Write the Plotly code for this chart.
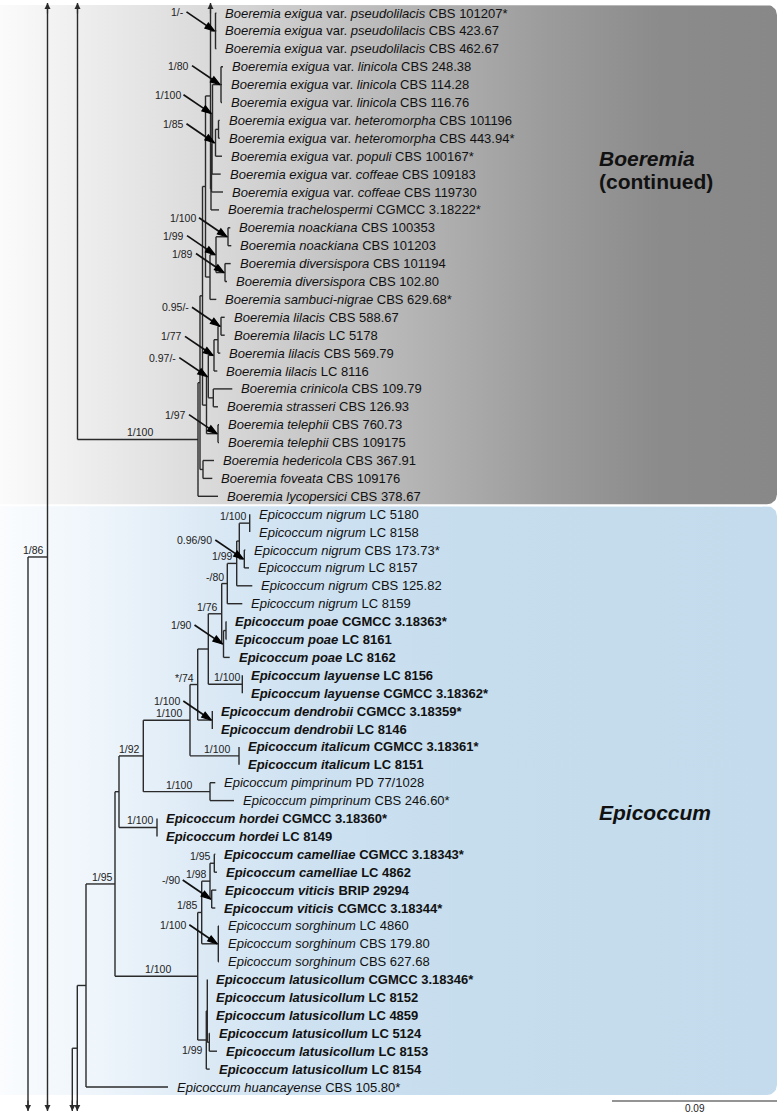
import math
import plotly.graph_objects as go

# ---------------- data ----------------
species = [
    "Boeremia exigua", "Boeremia exigua", "Boeremia exigua",
    "Boeremia exigua", "Boeremia exigua", "Boeremia exigua",
    "Boeremia exigua", "Boeremia exigua", "Boeremia exigua",
    "Boeremia exigua", "Boeremia exigua", "Boeremia trachelospermi",
    "Boeremia noackiana", "Boeremia noackiana", "Boeremia diversispora",
    "Boeremia diversispora", "Boeremia sambuci-nigrae", "Boeremia lilacis",
    "Boeremia lilacis", "Boeremia lilacis", "Boeremia lilacis",
    "Boeremia crinicola", "Boeremia strasseri", "Boeremia telephii",
    "Boeremia telephii", "Boeremia hedericola", "Boeremia foveata",
    "Boeremia lycopersici",
    "Epicoccum nigrum", "Epicoccum nigrum", "Epicoccum nigrum",
    "Epicoccum nigrum", "Epicoccum nigrum", "Epicoccum nigrum",
    "Epicoccum poae", "Epicoccum poae", "Epicoccum poae",
    "Epicoccum layuense", "Epicoccum layuense",
    "Epicoccum dendrobii", "Epicoccum dendrobii",
    "Epicoccum italicum", "Epicoccum italicum",
    "Epicoccum pimprinum", "Epicoccum pimprinum",
    "Epicoccum hordei", "Epicoccum hordei",
    "Epicoccum camelliae", "Epicoccum camelliae",
    "Epicoccum viticis", "Epicoccum viticis",
    "Epicoccum sorghinum", "Epicoccum sorghinum", "Epicoccum sorghinum",
    "Epicoccum latusicollum", "Epicoccum latusicollum", "Epicoccum latusicollum",
    "Epicoccum latusicollum", "Epicoccum latusicollum", "Epicoccum latusicollum",
    "Epicoccum huancayense",
]
variety = [
    "pseudolilacis", "pseudolilacis", "pseudolilacis",
    "linicola", "linicola", "linicola",
    "heteromorpha", "heteromorpha", "populi",
    "coffeae", "coffeae",
] + [""] * 50
strain = [
    "CBS 101207", "CBS 423.67", "CBS 462.67", "CBS 248.38", "CBS 114.28",
    "CBS 116.76", "CBS 101196", "CBS 443.94", "CBS 100167", "CBS 109183",
    "CBS 119730", "CGMCC 3.18222", "CBS 100353", "CBS 101203", "CBS 101194",
    "CBS 102.80", "CBS 629.68", "CBS 588.67", "LC 5178", "CBS 569.79",
    "LC 8116", "CBS 109.79", "CBS 126.93", "CBS 760.73", "CBS 109175",
    "CBS 367.91", "CBS 109176", "CBS 378.67",
    "LC 5180", "LC 8158", "CBS 173.73", "LC 8157", "CBS 125.82", "LC 8159",
    "CGMCC 3.18363", "LC 8161", "LC 8162", "LC 8156", "CGMCC 3.18362",
    "CGMCC 3.18359", "LC 8146", "CGMCC 3.18361", "LC 8151",
    "PD 77/1028", "CBS 246.60", "CGMCC 3.18360", "LC 8149",
    "CGMCC 3.18343", "LC 4862", "BRIP 29294", "CGMCC 3.18344",
    "LC 4860", "CBS 179.80", "CBS 627.68",
    "CGMCC 3.18346", "LC 8152", "LC 4859", "LC 5124", "LC 8153", "LC 8154",
    "CBS 105.80",
]
ex_type = [
    1, 0, 0, 0, 0, 0, 0, 1, 1, 0, 0, 1, 0, 0, 0, 0, 1, 0, 0, 0, 0, 0, 0, 0, 0, 0, 0, 0,
    0, 0, 1, 0, 0, 0, 1, 0, 0, 0, 1, 1, 0, 1, 0, 0, 1, 1, 0, 1, 0, 0, 1, 0, 0, 0,
    1, 0, 0, 0, 0, 0, 1,
]
new_species = [0] * 34 + [1] * 9 + [0, 0] + [1] * 6 + [0, 0, 0] + [1] * 6 + [0]

# depth (x) at which each terminal branch ends
tip_depth = [
    216.3, 216.3, 216.3, 223, 222, 222, 219.7, 219.7, 222, 220.7, 223, 219,
    230.3, 231.3, 230.7, 227, 216.3, 224.7, 224.7, 220.3, 217.3, 232.3, 218,
    219, 219, 214, 212.3, 218,
    249.7, 249.7, 245.3, 249, 252.3, 242.3, 226.3, 226.3, 229.7, 242.3, 242.3,
    212.3, 212.3, 239, 239, 215.3, 234, 157, 157, 215.3, 217, 216.3, 215.3,
    219, 219, 219, 207.3, 207.3, 207.3, 209.7, 217, 209.7, 168,
]

# internal nodes: id, children (tip index / node id / '^','v' = continues off page), depth, support
node_id = ["E1", "E2", "E3", "E4", "E5", "E6", "E7", "E8", "E0", "NO", "DI", "ND", "NS", "U",
           "L1", "L2", "L3", "CS", "L97", "TE", "LW", "B2", "HF", "B1", "BR", "BP",
           "N1", "N2", "N3", "N4", "N5", "P1", "P2", "N76", "LA", "A", "DE", "N74", "IT",
           "B", "PI", "N92", "HO", "C", "CA", "VI", "N98", "SO", "N85", "LT5", "LTX", "LT",
           "D", "N95", "EP", "Q77", "Q72", "C47", "R86"]
node_children = [
    [0, 1, 2], [3, 4, 5], [6, 7], ["E3", 8], ["E2", "E4"], ["E5", 9], ["E6", 10],
    ["E7", 11], ["^", "E1", "E8"], [12, 13], [14, 15], ["NO", "DI"], ["ND", 16],
    ["E0", "NS"], [17, 18], ["L1", 19], ["L2", 20], [21, 22], ["L3", "CS"], [23, 24],
    ["L97", "TE"], ["U", "LW"], [25, 26], ["B2", "HF"], ["B1", 27], ["^", "BR"],
    [28, 29], [30, 31], ["N1", "N2"], ["N3", 32], ["N4", 33], [34, 35], ["P1", 36],
    ["N5", "P2"], [37, 38], ["N76", "LA"], [39, 40], ["A", "DE"], [41, 42],
    ["N74", "IT"], [43, 44], ["B", "PI"], [45, 46], ["N92", "HO"], [47, 48], [49, 50],
    ["CA", "VI"], [51, 52, 53], ["N98", "SO"], [57, 58], [54, 55, 56, "LT5"], ["LTX", 59],
    ["N85", "LT"], ["C", "D"], ["N95", 60], ["EP", "v"], ["Q77", "v"], ["^", "v"],
    ["C47", "v"],
]
node_depth = [
    215.5, 221, 218.5, 215.5, 212.5, 212, 211.5, 211, 210.5, 228, 225, 216, 210, 205.5,
    221, 218, 214, 213.3, 208.3, 218, 206.5, 202.5, 203, 200, 198, 77.5,
    249.7, 244.3, 239.3, 236.7, 227.3, 226, 223.5, 221.7, 242.3, 208.3, 212.3, 197.7,
    239, 190, 210, 143.3, 157, 119, 214.3, 211.7, 210, 218.3, 201.7, 209.3, 207.3, 206.3,
    197.7, 115, 86, 77.3, 72.3, 47.5, 28,
]
support = [
    "1/-", "1/80", "", "1/85", "1/100", "", "", "", "", "1/100", "1/89", "1/99", "", "",
    "0.95/-", "", "1/77", "", "0.97/-", "1/97", "", "", "", "", "1/100", "",
    "1/100", "0.96/90", "", "1/99", "-/80", "", "1/90", "1/76", "1/100", "", "1/100",
    "*/74", "1/100", "1/100", "1/100", "1/92", "1/100", "", "1/95", "-/90", "1/98",
    "1/100", "1/85", "", "", "1/99", "1/100", "1/95", "", "", "", "1/86", "",
]
support_style = [  # 'a' = arrow callout, 'b' = above branch, 'c' = below branch
    "a", "a", "", "a", "a", "", "", "", "", "a", "a", "a", "", "",
    "a", "", "a", "", "a", "a", "", "", "", "", "b", "",
    "b", "a", "", "b", "b", "", "a", "b", "b", "", "a",
    "b", "b", "b", "b", "b", "b", "", "b", "a", "b",
    "a", "b", "", "", "c", "b", "b", "", "", "", "b", "",
]

clade_rows = {"Boeremia": (0, 27), "Epicoccum": (28, 60)}
scale_bar_value = "0.09"
scale_bar_length = 165  # depth units equal to 0.09 substitutions/site

# ---------------- layout constants ----------------
W, H = 778, 1114
ROW = 17.9
ROW0 = 13.0
Y_TOP = -0.56
Y_BOT = 61.34
LINE = "#2a2a2a"
FONT = "'Liberation Sans', Arial, sans-serif"
CALL_DX, CALL_DY = -28.0, -19.0  # callout tail offset from its node, in pixels

nodes = {nid: (ch, d, s, st) for nid, ch, d, s, st in
         zip(node_id, node_children, node_depth, support, support_style)}

ycache = {}


def ypos(c):
    if c == "^":
        return Y_TOP
    if c == "v":
        return Y_BOT
    if isinstance(c, int):
        return float(c)
    if c not in ycache:
        ys = [ypos(k) for k in nodes[c][0]]
        ycache[c] = (ys[0] + ys[-1]) / 2.0
    return ycache[c]


def xpos(c):
    if isinstance(c, int):
        return tip_depth[c]
    return nodes[c][1]


parent = {}
for nid in node_id:
    for c in nodes[nid][0]:
        if c not in ("^", "v"):
            parent[c] = nid

fig = go.Figure()


# ---- clade boxes with gradients ----
def rounded_box(y0, y1, x0=0.0, x1=777.0, r=10.0):
    ry = r / ROW
    xs, ys = [x0], [y0]
    for k in range(11):
        t = -math.pi / 2 + k * (math.pi / 2) / 10
        xs.append(x1 - r + r * math.cos(t))
        ys.append(y0 + ry + ry * math.sin(t))
    for k in range(11):
        t = k * (math.pi / 2) / 10
        xs.append(x1 - r + r * math.cos(t))
        ys.append(y1 - ry + ry * math.sin(t))
    xs += [x0, x0]
    ys += [y1, y0]
    return xs, ys


grads = {
    "Boeremia": [[0, "#fbfbfb"], [0.3, "#d6d6d6"], [0.7, "#9c9c9c"], [0.85, "#8b8b8b"], [1, "#888888"]],
    "Epicoccum": [[0, "#fafcfe"], [0.13, "#eef5fb"], [0.27, "#dbe9f5"], [0.4, "#cde1f1"], [0.6, "#c6dded"], [1, "#c3dbec"]],
}
for name, (r0, r1) in clade_rows.items():
    bx, by = rounded_box(r0 - 0.45, r1 + 0.45)
    fig.add_trace(go.Scatter(
        x=bx, y=by, mode="lines", line=dict(width=0), fill="toself",
        fillgradient=dict(type="horizontal", colorscale=grads[name]),
        hoverinfo="skip", showlegend=False))

# ---- tree lines ----
lx, ly = [], []
for nid in node_id:
    ch, d, s, st = nodes[nid]
    ys = [ypos(c) for c in ch]
    lx += [d, d, None]
    ly += [min(ys), max(ys), None]
    for c in ch:
        if c in ("^", "v"):
            continue
        lx += [d, xpos(c), None]
        ly += [ypos(c), ypos(c), None]
fig.add_trace(go.Scatter(x=lx, y=ly, mode="lines", line=dict(color=LINE, width=1.4),
                         hoverinfo="skip", showlegend=False))

ann = []
# off-page arrows
for nid in node_id:
    ch, d, s, st = nodes[nid]
    for c in ch:
        if c in ("^", "v"):
            ann.append(dict(x=d, y=ypos(c), ax=0, ay=(12 if c == "^" else -12),
                            showarrow=True, arrowhead=2, arrowsize=1.0, arrowwidth=1.2,
                            arrowcolor=LINE, text="", standoff=0))

# support values
sfont = dict(family=FONT, size=10.5, color="#222")
for nid in node_id:
    ch, d, s, st = nodes[nid]
    if not s:
        continue
    y = ypos(nid)
    if st == "a":
        hx, hy = d - 1, y
        tx, ty = hx + CALL_DX, hy + CALL_DY / ROW
        fig.add_trace(go.Scatter(
            x=[tx, hx], y=[ty, hy], mode="lines+markers",
            line=dict(color="#111111", width=1.7),
            marker=dict(symbol=["circle", "arrow"], size=[0, 10], color="#000000",
                        opacity=1, angleref="previous",
                        line=dict(width=1.2, color="#000000")),
            hoverinfo="skip", showlegend=False))
        ann.append(dict(x=tx, y=ty, xshift=-1, text=s, showarrow=False,
                        xanchor="right", yanchor="middle", font=sfont))
    elif st == "c":
        ann.append(dict(x=d - 1.5, y=y, yshift=-10, text=s, showarrow=False,
                        xanchor="right", yanchor="middle", font=sfont))
    else:
        px = nodes[parent[nid]][1] if nid in parent else d
        w = 5.2 * len(s)
        if w + 4 < d - px:
            ann.append(dict(x=(px + d) / 2 + 2, y=y, yshift=7, text=s, showarrow=False,
                            xanchor="center", yanchor="middle", font=sfont))
        else:
            ann.append(dict(x=d - 1.5, y=y, yshift=7, text=s, showarrow=False,
                            xanchor="right", yanchor="middle", font=sfont))

# tip labels
for i in range(len(species)):
    lab = "<i>%s</i>" % species[i]
    if variety[i]:
        lab += " var. <i>%s</i>" % variety[i]
    lab += " " + strain[i] + ("*" if ex_type[i] else "")
    if new_species[i]:
        lab = "<b>%s</b>" % lab
    ann.append(dict(x=tip_depth[i], y=i, xshift=7, text=lab, showarrow=False,
                    xanchor="left", yanchor="middle",
                    font=dict(family=FONT, size=13, color="#111")))

# clade names
ann.append(dict(x=597, y=(158 - ROW0) / ROW, text="<b><i>Boeremia</i></b>", showarrow=False,
                xanchor="left", yanchor="middle", font=dict(family=FONT, size=21, color="#111")))
ann.append(dict(x=597, y=(181 - ROW0) / ROW, text="<b>(continued)</b>", showarrow=False,
                xanchor="left", yanchor="middle", font=dict(family=FONT, size=21, color="#111")))
ann.append(dict(x=597, y=(812 - ROW0) / ROW, text="<b><i>Epicoccum</i></b>", showarrow=False,
                xanchor="left", yanchor="middle", font=dict(family=FONT, size=21, color="#111")))

# scale bar
sb_y = (1101 - ROW0) / ROW
sb_x1 = 777
fig.add_trace(go.Scatter(x=[sb_x1 - scale_bar_length, sb_x1], y=[sb_y, sb_y], mode="lines",
                         line=dict(color=LINE, width=1.1), hoverinfo="skip", showlegend=False))
ann.append(dict(x=sb_x1 - scale_bar_length / 2, y=sb_y, yshift=-7, text=scale_bar_value,
                showarrow=False, xanchor="center", yanchor="middle",
                font=dict(family=FONT, size=10, color="#222")))

fig.update_layout(
    width=W, height=H, margin=dict(l=0, r=0, t=0, b=0),
    paper_bgcolor="white", plot_bgcolor="white",
    xaxis=dict(range=[0, W], visible=False, fixedrange=True),
    yaxis=dict(range=[(H - ROW0) / ROW, -ROW0 / ROW], visible=False, fixedrange=True),
    annotations=ann, showlegend=False,
)
fig.write_html(
    "out.html",
    config={"displayModeBar": False},
    post_script="document.body.style.margin='0px';document.body.style.padding='0px';"
                "document.body.style.overflow='hidden';",
)
